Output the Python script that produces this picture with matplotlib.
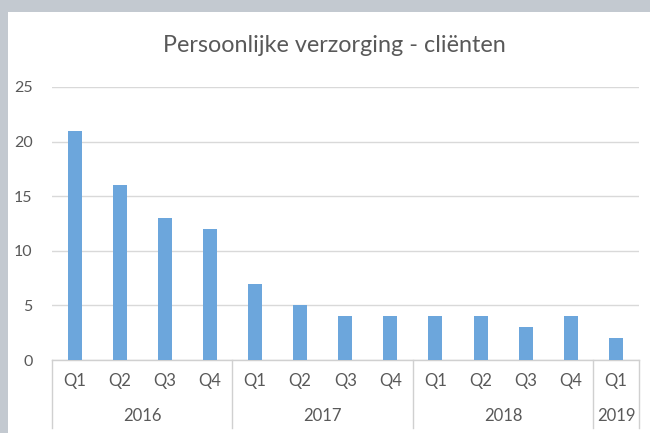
import matplotlib
matplotlib.use("Agg")
import matplotlib.pyplot as plt
from matplotlib.patches import Rectangle
import matplotlib.transforms as mtransforms

title = "Persoonlijke verzorging - cliënten"
quarters = ["Q1", "Q2", "Q3", "Q4", "Q1", "Q2", "Q3", "Q4", "Q1", "Q2", "Q3", "Q4", "Q1"]
years = ["2016", "2017", "2018", "2019"]
year_counts = [4, 4, 4, 1]
values = [21, 16, 13, 12, 7, 5, 4, 4, 4, 4, 3, 4, 2]
yticks = [0, 5, 10, 15, 20, 25]

W, H = 650, 433
fig = plt.figure(figsize=(W / 100, H / 100), dpi=100)
plt.rcParams['font.family'] = ['Lato', 'DejaVu Sans']
txt = "#595959"

# shadow frame + white card
fig.patch.set_facecolor("#aeb5bf")
fig.add_artist(Rectangle((0, 0), 1, 1, transform=fig.transFigure, facecolor="#c3c9d0", edgecolor="none", zorder=-3))
fig.add_artist(Rectangle((8 / W, 0), 1, 1 - 12 / H, transform=fig.transFigure, facecolor="white", edgecolor="none", zorder=-2))

left, right = 52 / W, 638.5 / W
bottom, top = 1 - 360 / H, 1 - 87 / H
ax = fig.add_axes([left, bottom, right - left, top - bottom])
ax.set_facecolor("none")

x = list(range(len(values)))
ax.bar(x, values, width=0.31, color="#6CA6DC", zorder=3)
ax.set_xlim(-0.5, len(values) - 0.5)
ax.set_ylim(0, 25)
ax.set_yticks(yticks)
ax.set_yticklabels([str(t) for t in yticks], fontsize=11.5, color=txt)
ax.tick_params(axis="y", length=0, pad=14)
ax.set_xticks([])
ax.grid(axis="y", color="#d9d9d9", linewidth=1.0, zorder=0)
for s in ["top", "right", "left"]:
    ax.spines[s].set_visible(False)
ax.spines["bottom"].set_color("#d0d0d0")
ax.spines["bottom"].set_linewidth(1.0)

trans = mtransforms.blended_transform_factory(ax.transData, fig.transFigure)
yq = 1 - 381 / H
yy = 1 - 416 / H
for i, q in enumerate(quarters):
    ax.text(i, yq, q, transform=trans, ha="center", va="center", fontsize=12, color=txt)

bounds = [-0.5]
for c in year_counts:
    bounds.append(bounds[-1] + c)
for i, yr in enumerate(years):
    ax.text((bounds[i] + bounds[i + 1]) / 2, yy, yr, transform=trans, ha="center", va="center", fontsize=12, color=txt)
for b in bounds:
    ax.plot([b, b], [1 - 360 / H, 1 - 428 / H], transform=trans, color="#d0d0d0", linewidth=1.0, clip_on=False)

fig.text(334 / W, 1 - 46 / H, title, ha="center", va="center", fontsize=16.8, color=txt)

fig.savefig("out.png", dpi=100)
